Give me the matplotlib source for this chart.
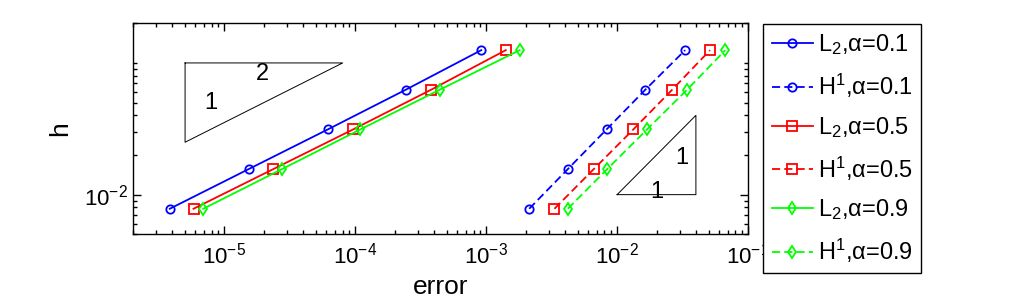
"""
收敛阶图: h vs error (L2 / H1, 不同 alpha)
"""
import numpy as np
import matplotlib
matplotlib.use('Agg')
from matplotlib import pyplot as plt
from matplotlib.ticker import LogLocator, NullFormatter, FixedLocator

plt.rcParams['font.family'] = ['Liberation Sans', 'DejaVu Sans']
plt.rcParams['mathtext.fontset'] = 'custom'
plt.rcParams['mathtext.rm'] = 'Liberation Sans'
plt.rcParams['mathtext.default'] = 'regular'

# 网格尺寸
h = [1/128, 1/64, 1/32, 1/16, 1/8]

# L2 误差
l2_a01 = [3.82e-6, 1.53e-5, 6.15e-5, 2.42e-4, 9.16e-4]
l2_a05 = [5.80e-6, 2.36e-5, 9.60e-5, 3.78e-4, 1.41e-3]
l2_a09 = [6.88e-6, 2.75e-5, 1.09e-4, 4.40e-4, 1.80e-3]

# H1 误差
h1_a01 = [2.13e-3, 4.20e-3, 8.30e-3, 1.64e-2, 3.31e-2]
h1_a05 = [3.32e-3, 6.63e-3, 1.33e-2, 2.63e-2, 5.13e-2]
h1_a09 = [4.20e-3, 8.40e-3, 1.69e-2, 3.42e-2, 6.71e-2]

labels = [r'$L_2$,α=0.1', r'$H^1$,α=0.1',
          r'$L_2$,α=0.5', r'$H^1$,α=0.5',
          r'$L_2$,α=0.9', r'$H^1$,α=0.9']

# 斜率三角形
tri2_x = [5e-6, 8e-5, 5e-6, 5e-6]
tri2_y = [0.1, 0.1, 0.025, 0.1]
tri1_x = [0.01, 0.04, 0.04, 0.01]
tri1_y = [0.01, 0.01, 0.04, 0.01]
tri_text = [('1', 7.8e-6, 0.0497), ('2', 1.94e-5, 0.0817),
            ('1', 0.0313, 0.019), ('1', 0.0202, 0.0105)]

fig = plt.figure(figsize=(10.16, 3.04), dpi=100)
ax = fig.add_axes([0.1309, 0.2293, 0.6053, 0.6941])

lw = 1.3
dash = (4.5, 2.3)
series = [
    (l2_a01, 'b', 'o', 6, '-'),
    (h1_a01, 'b', 'o', 6, '--'),
    (l2_a05, 'r', 's', 7, '-'),
    (h1_a05, 'r', 's', 7, '--'),
    (l2_a09, (0, 1, 0), 'd', 6, '-'),
    (h1_a09, (0, 1, 0), 'd', 6, '--'),
]
for (err, c, m, ms, ls), lab in zip(series, labels):
    line, = ax.loglog(err, h, color=c, marker=m, ms=ms, mfc='none', mec=c,
                      mew=1.3, lw=lw, ls=ls, label=lab)
    if ls == '--':
        line.set_dashes(dash)

ax.plot(tri2_x, tri2_y, 'k-', lw=0.7)
ax.plot(tri1_x, tri1_y, 'k-', lw=0.7)
for s, x, y in tri_text:
    ax.text(x, y, s, fontsize=17, ha='center', va='center')

ax.set_xlim(2e-6, 0.1)
ax.set_ylim(5e-3, 0.2)

ax.xaxis.set_major_locator(LogLocator(base=10, numticks=10))
ax.xaxis.set_minor_locator(LogLocator(base=10, subs=np.arange(2, 10), numticks=20))
ax.xaxis.set_minor_formatter(NullFormatter())
ax.yaxis.set_major_locator(FixedLocator([1e-2]))
ax.yaxis.set_minor_locator(LogLocator(base=10, subs=np.arange(1, 10), numticks=20))
ax.yaxis.set_minor_formatter(NullFormatter())

ax.tick_params(which='both', direction='in', top=True, right=True, width=1)
ax.tick_params(which='major', length=6, labelsize=16)
ax.tick_params(axis='x', which='major', pad=6)
ax.tick_params(axis='y', which='major', pad=4)
ax.tick_params(which='minor', length=3)
for sp in ax.spines.values():
    sp.set_linewidth(1)

ax.set_xlabel('error', fontsize=19, labelpad=5)
ax.set_ylabel('h', fontsize=19, labelpad=8)

leg = ax.legend(loc='upper left', bbox_to_anchor=(0.7513, 0.920),
                bbox_transform=fig.transFigure, borderaxespad=0,
                fontsize=17, fancybox=False, framealpha=1, edgecolor='k',
                handlelength=1.75, handletextpad=0.2, labelspacing=0.62,
                borderpad=0.35)
leg.get_frame().set_linewidth(1)

plt.savefig('out.png', dpi=100)
